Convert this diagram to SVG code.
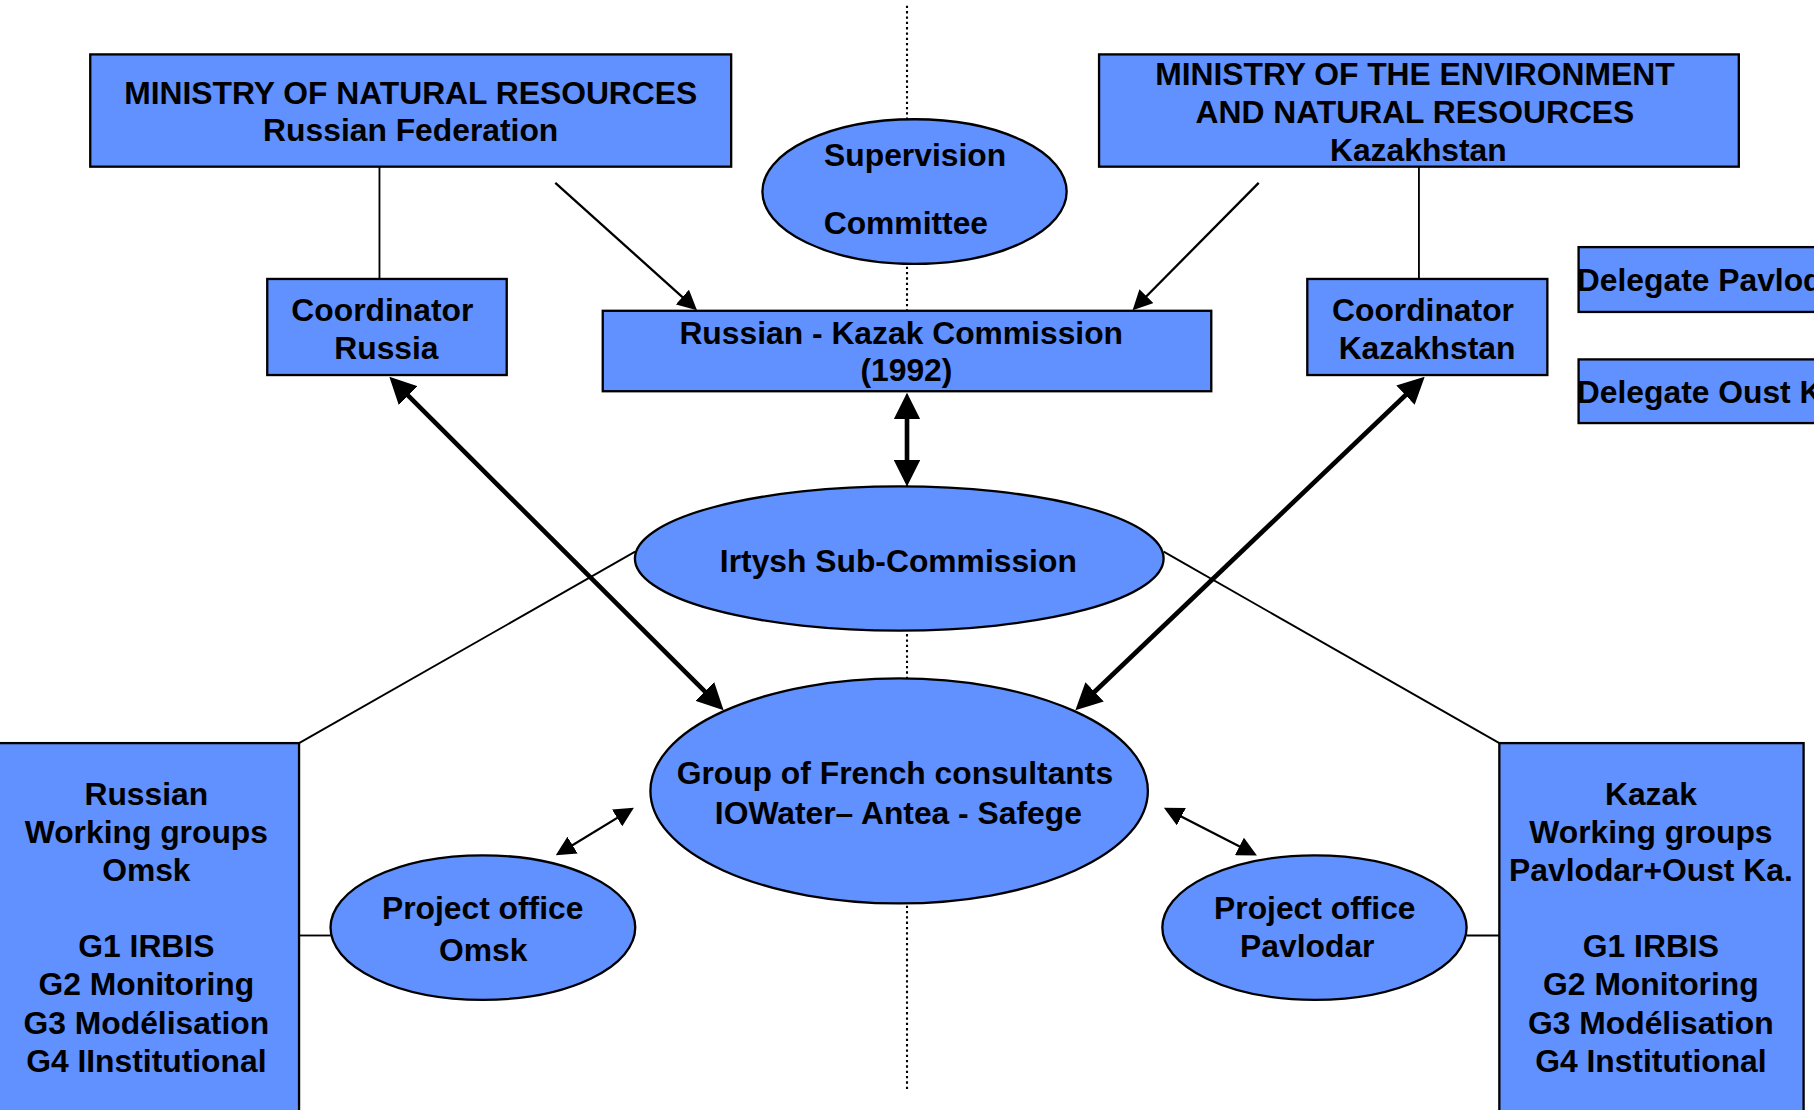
<svg xmlns="http://www.w3.org/2000/svg" width="1814" height="1110" viewBox="0 0 1814 1110">
<style>
.box{fill:#6190FF;stroke:#000;stroke-width:2}
.t{font-family:"Liberation Sans",Arial,sans-serif;font-weight:bold;font-size:27.5px;fill:#000;text-anchor:middle}
.ts{font-family:"Liberation Sans",Arial,sans-serif;font-weight:bold;font-size:27.5px;fill:#000;text-anchor:start}
.thin{stroke:#000;stroke-width:1.6;fill:none}
.arr{stroke:#000;stroke-width:2;fill:none}
.thick{stroke:#000;stroke-width:4;fill:none}
.dot{stroke:#000;stroke-width:1.8;stroke-dasharray:2 2.6;fill:none}
</style>
<defs>
<marker id="hb" markerUnits="userSpaceOnUse" markerWidth="23" markerHeight="23" refX="15" refY="11.5" orient="auto-start-reverse" viewBox="0 0 23 23"><path d="M0,0 L23,11.5 L0,23 z" fill="#000"/></marker>
<marker id="hs" markerUnits="userSpaceOnUse" markerWidth="17" markerHeight="17" refX="13" refY="8.5" orient="auto-start-reverse" viewBox="0 0 17 17"><path d="M0,0 L17,8.5 L0,17 z" fill="#000"/></marker>
</defs>
<rect width="1814" height="1110" fill="#fff"/>
<g transform="scale(1.1569,1.1575)">
<g id="divider"><line class="dot" x1="784" y1="5" x2="784" y2="942"/></g>

<g id="ministry-russia"><rect class="box" x="78" y="47" width="554" height="97"/>
<text class="t" x="355" y="90">MINISTRY OF NATURAL RESOURCES</text>
<text class="t" x="355" y="122">Russian Federation</text></g>

<g id="ministry-kazakhstan"><rect class="box" x="950" y="47" width="553" height="97"/>
<text class="t" x="1223" y="73.5">MINISTRY OF THE ENVIRONMENT</text>
<text class="t" x="1223" y="106.6">AND NATURAL RESOURCES</text>
<text class="t" x="1226" y="139.5">Kazakhstan</text></g>

<g id="supervision"><ellipse class="box" cx="790.5" cy="165.5" rx="131.5" ry="62.5"/>
<text class="t" x="791" y="143">Supervision</text>
<text class="t" x="783" y="202">Committee</text></g>

<g id="coord-russia"><rect class="box" x="231" y="241" width="207" height="83"/>
<text class="t" x="330.5" y="277">Coordinator</text>
<text class="t" x="334" y="310">Russia</text></g>

<g id="commission"><rect class="box" x="521" y="268.5" width="526" height="69.5"/>
<text class="t" x="779" y="297.5">Russian - Kazak Commission</text>
<text class="t" x="783.5" y="329.5">(1992)</text></g>

<g id="coord-kazakhstan"><rect class="box" x="1130" y="241" width="207.5" height="83"/>
<text class="t" x="1230" y="277">Coordinator</text>
<text class="t" x="1233.5" y="310">Kazakhstan</text></g>

<g id="delegate-pavlodar"><rect class="box" x="1364.5" y="213.5" width="260" height="56"/>
<text class="ts" x="1363" y="251">Delegate Pavlodar</text></g>

<g id="delegate-oust"><rect class="box" x="1364.5" y="310.5" width="260" height="55"/>
<text class="ts" x="1363" y="348">Delegate Oust Ka.</text></g>

<g id="irtysh"><ellipse class="box" cx="777.3" cy="482.5" rx="228.5" ry="62.3"/>
<text class="t" x="776.5" y="494">Irtysh Sub-Commission</text></g>

<g id="french-group"><ellipse class="box" cx="777.2" cy="683.3" rx="215" ry="97.2"/>
<text class="t" x="773.5" y="677.5">Group of French consultants</text>
<text class="t" x="776.5" y="711.5">IOWater– Antea - Safege</text></g>

<g id="russian-wg"><rect class="box" x="-10" y="642" width="268.5" height="340"/>
<text class="t" x="126.5" y="695.2">Russian</text>
<text class="t" x="126.5" y="728.3">Working groups</text>
<text class="t" x="126.5" y="761.3">Omsk</text>
<text class="t" x="126.5" y="827">G1 IRBIS</text>
<text class="t" x="126.5" y="860">G2 Monitoring</text>
<text class="t" x="126.5" y="893.1">G3 Modélisation</text>
<text class="t" x="126.5" y="926.3">G4 IInstitutional</text></g>

<g id="kazak-wg"><rect class="box" x="1296" y="642" width="263" height="340"/>
<text class="t" x="1427" y="695.2">Kazak</text>
<text class="t" x="1427" y="728.3">Working groups</text>
<text class="t" x="1427" y="761.3">Pavlodar+Oust Ka.</text>
<text class="t" x="1427" y="827">G1 IRBIS</text>
<text class="t" x="1427" y="860">G2 Monitoring</text>
<text class="t" x="1427" y="893.1">G3 Modélisation</text>
<text class="t" x="1427" y="926.3">G4 Institutional</text></g>

<g id="office-omsk"><ellipse class="box" cx="417.4" cy="801.4" rx="131.7" ry="62.4"/>
<text class="t" x="417.2" y="794">Project office</text>
<text class="t" x="417.7" y="830">Omsk</text></g>

<g id="office-pavlodar"><ellipse class="box" cx="1136.2" cy="801.4" rx="131.5" ry="62.4"/>
<text class="t" x="1136.5" y="794">Project office</text>
<text class="t" x="1130" y="827">Pavlodar</text></g>

<g id="connectors">
<line class="thin" x1="328" y1="144" x2="328" y2="241"/>
<line class="thin" x1="1226.5" y1="144" x2="1226.5" y2="241"/>
<line class="arr" x1="480" y1="158" x2="599.5" y2="265.3" marker-end="url(#hs)"/>
<line class="arr" x1="1088" y1="158" x2="981.8" y2="265.2" marker-end="url(#hs)"/>
<line class="thick" x1="784" y1="347.3" x2="784" y2="412.4" marker-start="url(#hb)" marker-end="url(#hb)"/>
<line class="thick" x1="342.2" y1="331.2" x2="619.8" y2="607.9" marker-start="url(#hb)" marker-end="url(#hb)"/>
<line class="thick" x1="1225.7" y1="331.1" x2="935.3" y2="608" marker-start="url(#hb)" marker-end="url(#hb)"/>
<line class="thin" x1="549" y1="476.6" x2="258.5" y2="642"/>
<line class="thin" x1="1005.8" y1="476.6" x2="1296" y2="642"/>
<line class="arr" x1="483.8" y1="736.9" x2="544.5" y2="699.9" marker-start="url(#hs)" marker-end="url(#hs)"/>
<line class="arr" x1="1009.6" y1="699.6" x2="1082.9" y2="737.2" marker-start="url(#hs)" marker-end="url(#hs)"/>
<line class="thin" x1="258.5" y1="808.2" x2="285.7" y2="808.2"/>
<line class="thin" x1="1267.7" y1="808.2" x2="1296" y2="808.2"/>
</g>
</g>
</svg>
